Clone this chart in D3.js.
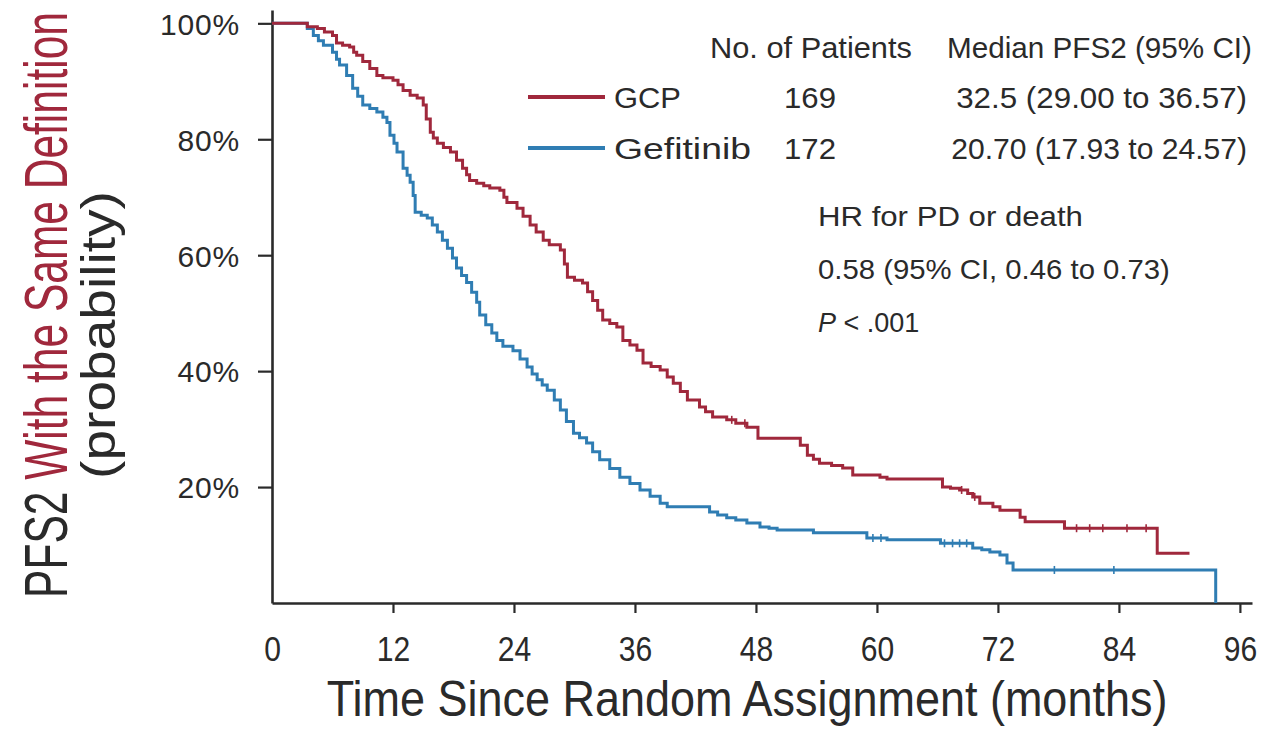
<!DOCTYPE html>
<html>
<head>
<meta charset="utf-8">
<script src="https://cdn.jsdelivr.net/npm/d3@7"></script>
<style>
  body { margin: 0; background: #fff; }
  svg { display: block; }
</style>
</head>
<body>
<svg id="chart" width="1263" height="750"></svg>
<script>
// Kaplan-Meier estimates: time in months, PFS2 probability in percent
const gcpMonths = [0, 3.0, 3.5, 4.5, 5.2, 6.0, 6.4, 7.0, 7.7, 8.1, 8.4, 9.0, 9.7, 10.4, 11.0, 12.0, 12.5, 13.0,
  13.7, 14.4, 15.0, 15.3, 15.7, 16.0, 16.4, 17.0, 17.7, 18.3, 18.9, 19.3, 19.6, 20.3, 21.0, 21.6, 22.6,
  23.0, 23.3, 24.3, 24.9, 25.6, 26.2, 26.9, 27.5, 28.6, 29.0, 29.3, 30.0, 30.8, 31.3, 31.8, 32.3, 32.8,
  33.5, 34.2, 34.8, 35.5, 36.2, 36.8, 37.6, 38.5, 39.2, 39.8, 40.5, 41.2, 42.4, 43.0, 43.7, 45.1, 46.0,
  47.1, 48.2, 52.4, 53.1, 53.7, 54.3, 55.5, 56.6, 57.6, 60.3, 61.0, 66.5, 67.3, 68.2, 69.0, 69.5, 70.2,
  71.5, 72.2, 74.2, 74.7, 78.6, 87.8, 91.0];
const gcpSurvival = [100, 100, 99.4, 99.1, 98.5, 97.9, 96.6, 96.2, 95.9, 95.0, 94.5, 93.4, 92.2, 91.0, 90.6, 90.2, 89.4, 88.4,
  87.6, 87.1, 85.9, 83.5, 81.2, 80.2, 79.3, 78.6, 77.8, 76.4, 75.0, 73.9, 72.9, 72.4, 72.0, 71.6, 71.2,
  70.0, 69.1, 68.1, 66.7, 65.2, 64.0, 62.6, 61.8, 60.9, 58.5, 56.2, 55.7, 55.2, 53.7, 52.2, 50.5, 48.8,
  48.2, 47.6, 45.3, 44.5, 43.6, 41.4, 40.8, 40.2, 39.0, 37.9, 36.5, 35.0, 33.8, 33.0, 32.1, 31.6, 31.0,
  30.3, 28.4, 27.2, 25.5, 24.8, 24.1, 23.7, 23.3, 22.1, 21.7, 21.4, 20.0, 19.8, 19.5, 18.9, 18.3, 17.2,
  16.6, 16.0, 14.8, 14.0, 12.9, 8.6, 8.6];

const gefMonths = [0, 3.0, 3.5, 4.1, 4.6, 5.1, 6.0, 6.4, 6.7, 7.4, 8.0, 8.5, 9.0, 9.7, 10.4, 11.0, 11.4, 11.7,
  12.1, 12.4, 13.0, 13.4, 13.7, 14.0, 14.2, 14.8, 15.4, 15.9, 16.4, 16.9, 17.4, 17.9, 18.3, 18.8, 19.3,
  19.8, 20.3, 20.6, 21.2, 21.8, 22.3, 22.9, 23.9, 24.6, 25.3, 25.8, 26.3, 26.8, 27.3, 28.0, 28.6, 29.2,
  29.9, 30.5, 31.2, 31.8, 32.5, 33.5, 34.5, 35.5, 36.5, 37.5, 38.5, 39.2, 43.4, 44.2, 45.1, 46.0, 47.1,
  48.4, 49.3, 50.1, 53.7, 59.0, 61.0, 66.3, 69.5, 70.4, 71.2, 72.2, 72.9, 73.5, 93.6];
const gefSurvival = [100, 100, 99.1, 97.9, 97.0, 96.2, 95.0, 93.8, 92.8, 91.0, 88.8, 87.4, 85.9, 85.3, 84.7, 83.8, 82.9, 80.7,
  79.3, 77.8, 75.0, 73.8, 72.6, 70.3, 67.4, 66.9, 66.4, 65.2, 64.0, 62.6, 61.2, 59.5, 57.8, 56.5, 55.3,
  53.6, 51.9, 49.7, 48.0, 46.6, 45.3, 44.3, 43.5, 42.1, 40.7, 39.5, 38.5, 37.6, 36.7, 35.0, 33.3, 31.3,
  29.3, 28.5, 27.6, 26.1, 24.7, 23.2, 21.7, 20.6, 19.5, 18.4, 17.2, 16.6, 15.7, 15.2, 14.7, 14.3, 13.8,
  13.1, 12.9, 12.6, 12.1, 11.2, 10.9, 10.3, 9.5, 9.2, 8.8, 8.3, 6.9, 5.7, 0];

// censored observations (months)
const gcpCensored = [45.6, 46.9, 68.4, 69.7, 79.8, 81.1, 82.4, 84.8, 86.7];
const gefCensored = [59.6, 60.4, 66.7, 67.5, 68.2, 68.9, 77.6, 83.5];

const xTickValues = [0, 12, 24, 36, 48, 60, 72, 84, 96];
const yTickValues = [20, 40, 60, 80, 100];

const groupNames = ["GCP", "Gefitinib"];
const patientCounts = ["169", "172"];
const medianText = ["32.5 (29.00 to 36.57)", "20.70 (17.93 to 24.57)"];

const RED = "#a0283c";
const BLUE = "#2f7db3";
const INK = "#2a2a2a";
const FONT = "'Liberation Sans', Arial, Helvetica, sans-serif";

const svg = d3.select("#chart").style("font-family", FONT);

const x = d3.scaleLinear().domain([0, 97.2]).range([272, 1252]);
const y = d3.scaleLinear().domain([0, 102.3]).range([603, 10]);

// text placed at an anchor point and stretched/condensed to a target width
function label(parent, px, py, str, o) {
  const g = parent.append("g")
    .attr("transform", `translate(${px},${py}) rotate(${o.rotate || 0})`);
  const t = g.append("text")
    .attr("text-anchor", o.anchor || "start")
    .attr("font-size", o.size)
    .attr("fill", o.fill || INK);
  if (o.italic) t.attr("font-style", "italic");
  if (Array.isArray(str)) {
    str.forEach(s => t.append("tspan").attr("fill", s.fill || INK).text(s.text));
  } else {
    t.text(str);
  }
  if (o.width) {
    const L = t.node().getComputedTextLength();
    t.attr("transform", `scale(${o.width / L},1)`);
  }
  return t;
}

// axes
const xAxis = d3.axisBottom(x).tickValues(xTickValues).tickSize(10).tickSizeOuter(0).tickFormat(d3.format("d"));
const yAxis = d3.axisLeft(y).tickValues(yTickValues).tickSize(14).tickSizeOuter(0).tickFormat(d => d + "%");

const gx = svg.append("g").attr("transform", `translate(0,${y(0)})`).call(xAxis);
const gy = svg.append("g").attr("transform", `translate(${x(0)},0)`).call(yAxis);

[gx, gy].forEach(g => {
  g.select(".domain").attr("stroke", INK).attr("stroke-width", 2.6);
  g.selectAll(".tick line").attr("stroke", INK).attr("stroke-width", 2.2);
  g.selectAll(".tick text").attr("fill", INK).attr("font-family", FONT);
});
gx.selectAll(".tick text")
  .attr("font-size", 35).attr("y", 33).attr("dy", "0.71em")
  .attr("transform", "scale(0.86,1)");
gx.selectAll(".tick").filter(d => d === 0).select("line").remove();
gy.selectAll(".tick text")
  .attr("font-size", 30).attr("x", -32).attr("dy", "0.36em")
  .attr("letter-spacing", "0.8px");

// survival curves
const line = d3.line().x(d => x(d[0])).y(d => y(d[1])).curve(d3.curveStepAfter);
const series = [
  { months: gefMonths, surv: gefSurvival, censored: gefCensored, color: BLUE },
  { months: gcpMonths, surv: gcpSurvival, censored: gcpCensored, color: RED }
];

series.forEach(s => {
  const pts = s.months.map((m, i) => [m, s.surv[i]]);
  svg.append("path")
    .datum(pts)
    .attr("fill", "none")
    .attr("stroke", s.color)
    .attr("stroke-width", 3)
    .attr("stroke-linejoin", "miter")
    .attr("d", line);

  const bis = d3.bisector(d => d).right;
  svg.append("g").selectAll("line")
    .data(s.censored)
    .join("line")
    .attr("x1", d => x(d)).attr("x2", d => x(d))
    .attr("y1", d => y(s.surv[bis(s.months, d) - 1]) - 4)
    .attr("y2", d => y(s.surv[bis(s.months, d) - 1]) + 4)
    .attr("stroke", s.color)
    .attr("stroke-width", 1.6);
});

// axis titles
label(svg, 747, 716, "Time Since Random Assignment (months)", { anchor: "middle", size: 50, width: 841 });
label(svg, 67, 305, [{ text: "PFS2 " }, { text: "With the Same Definition", fill: RED }],
  { anchor: "middle", size: 62, rotate: -90, width: 586 });
label(svg, 115, 335, "(probability)", { anchor: "middle", size: 48, rotate: -90, width: 288 });

// legend table
label(svg, 710, 58, "No. of Patients", { size: 30, width: 202 });
label(svg, 947, 58, "Median PFS2 (95% CI)", { size: 30, width: 305 });

const rowY = [97, 148];
const rowColors = [RED, BLUE];
const nameWidths = [67, 137];
const medWidths = [291, 296];
groupNames.forEach((name, i) => {
  svg.append("line")
    .attr("x1", 528).attr("x2", 605)
    .attr("y1", rowY[i]).attr("y2", rowY[i])
    .attr("stroke", rowColors[i]).attr("stroke-width", 4);
  label(svg, 614, rowY[i] + 11, name, { size: 30, width: nameWidths[i] });
  label(svg, 784, rowY[i] + 11, patientCounts[i], { size: 30, width: 52 });
  label(svg, 1247, rowY[i] + 11, medianText[i], { size: 30, anchor: "end", width: medWidths[i] });
});

// hazard ratio block
label(svg, 818, 226, "HR for PD or death", { size: 27, width: 265 });
label(svg, 818, 279, "0.58 (95% CI, 0.46 to 0.73)", { size: 27, width: 352 });
const pt = label(svg, 818, 332, "", { size: 27 });
pt.append("tspan").attr("font-style", "italic").text("P");
pt.append("tspan").text(" < .001");
</script>
</body>
</html>
